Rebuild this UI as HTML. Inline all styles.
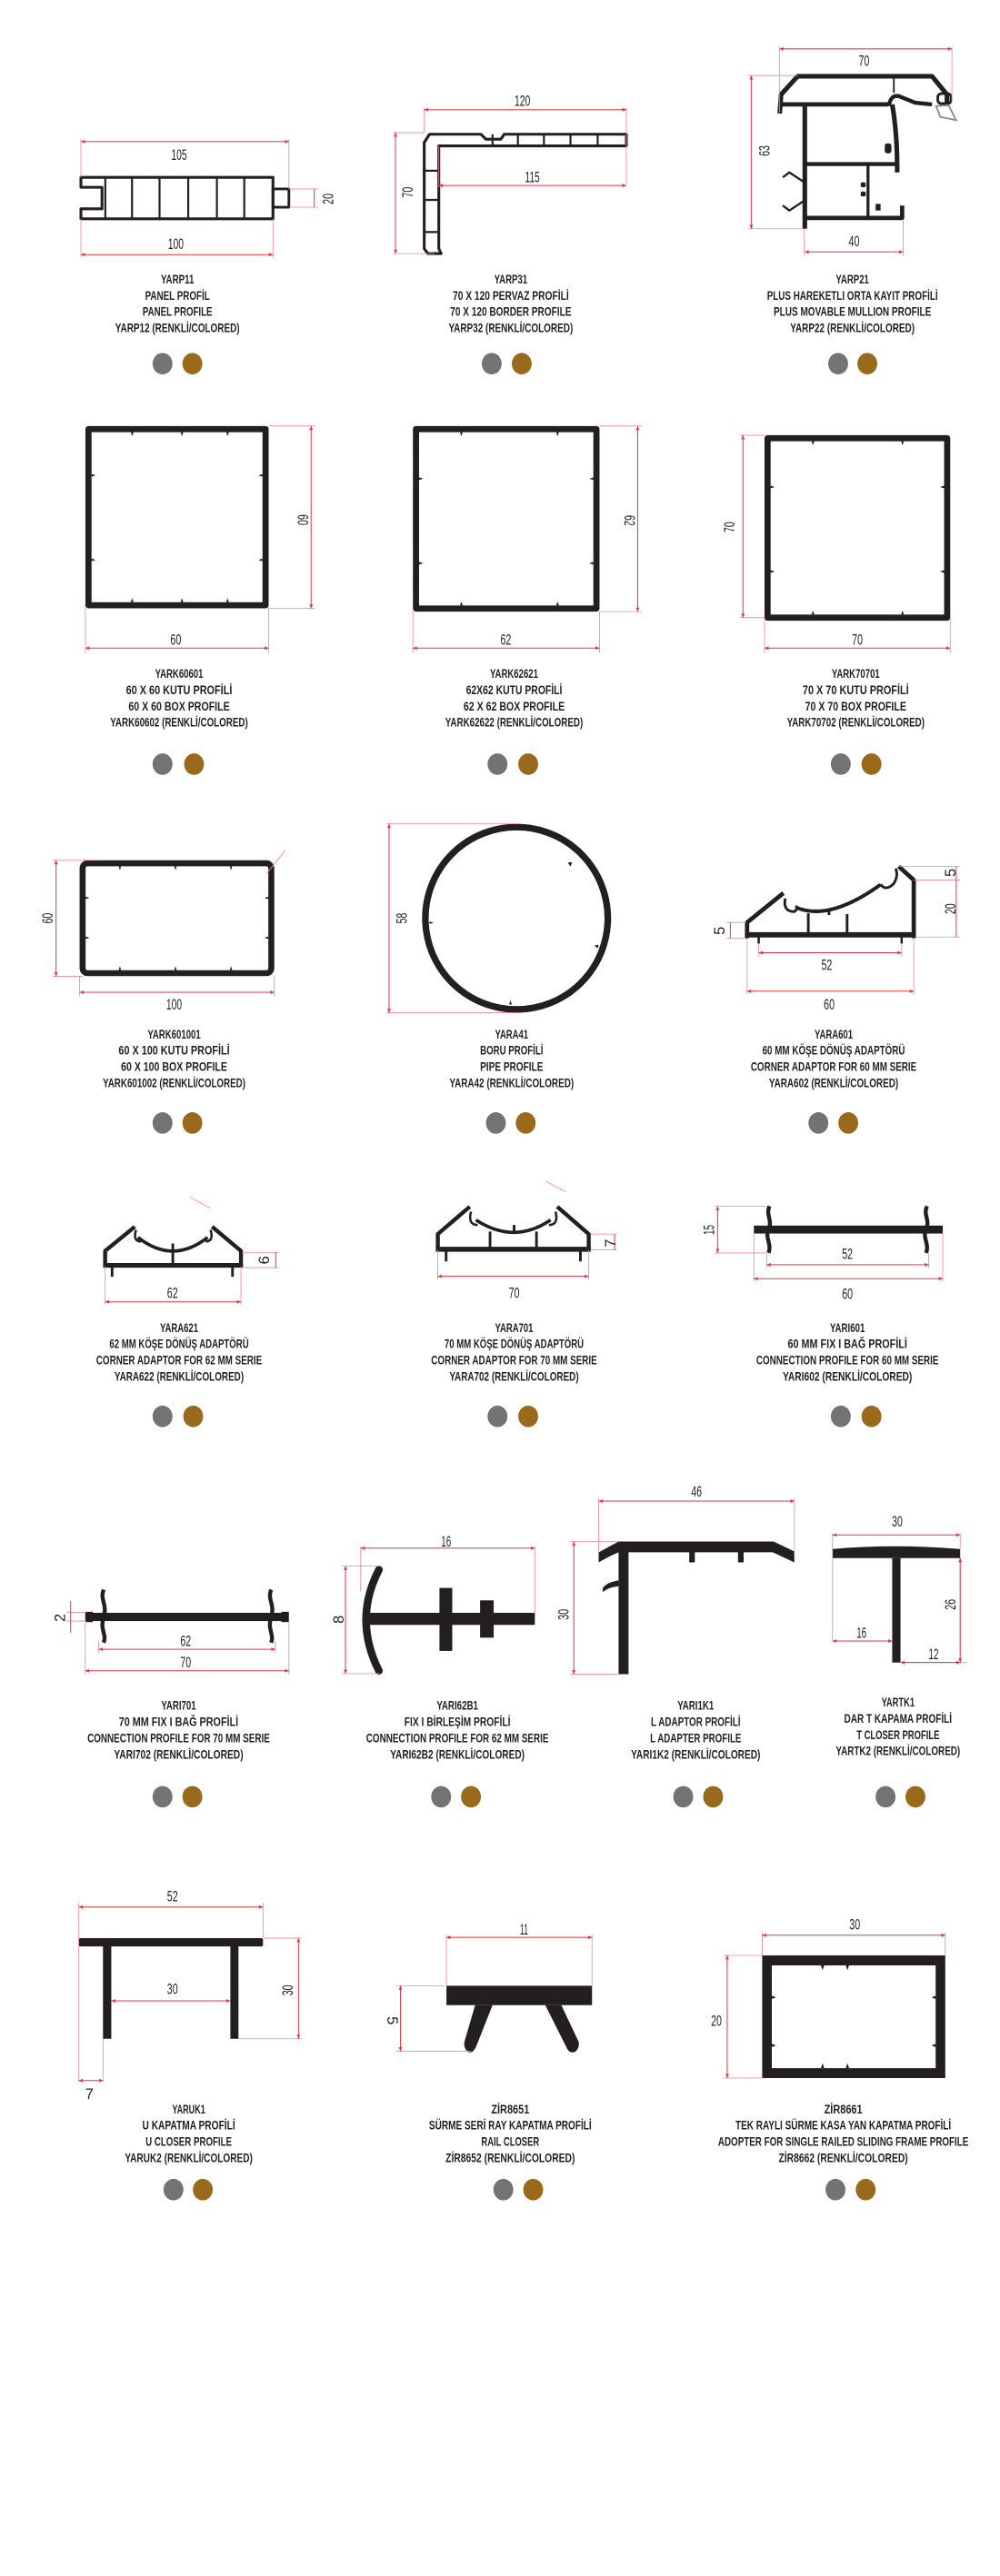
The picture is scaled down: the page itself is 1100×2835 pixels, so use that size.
<!DOCTYPE html>
<html><head><meta charset="utf-8"><style>
html,body{margin:0;padding:0;background:#fff}
svg{display:block}
.t{font-family:"Liberation Sans Narrow","Liberation Sans",sans-serif;font-weight:bold;font-size:7.6px;fill:#231f20;text-anchor:middle}
.n{font-family:"Liberation Sans Narrow","Liberation Sans",sans-serif;font-size:9px;fill:#231f20;text-anchor:middle}
.d{stroke:#e8333f;stroke-width:.55;fill:none}
.e{stroke:#f28890;stroke-width:.45;fill:none}
.k{fill:#231f20}
.o{fill:none;stroke:#231f20;stroke-linejoin:round}
.g{fill:#737373}.b{fill:#9a6a1c}
</style></head><body>
<svg width="1100" height="2835" viewBox="0 0 603 1554.1" xmlns="http://www.w3.org/2000/svg">
<defs><marker id="a" viewBox="0 0 6 6" refX="6" refY="3" markerUnits="userSpaceOnUse" markerWidth="3" markerHeight="2.4" orient="auto-start-reverse"><path d="M0,0.3L6,3L0,5.7z" fill="#e8333f"/></marker></defs>

<!-- ROW 1 -->
<path class="o" stroke-width="1.7" d="M48.8,107 H164.6 V132 H48.8 V126 H61.5 V113 H48.8 Z"/>
<rect class="o" stroke-width="1.6" x="164.6" y="114" width="9.6" height="11"/>
<path class="o" stroke-width="1.2" d="M63.5,107V132M79.6,107V132M96.2,107V132M113.5,107V132M130.8,107V132M147.3,107V132"/>
<path class="e" d="M48.8,84V107M174.2,84V114M48.8,132V155M164.6,132V155M174.2,114H192M174.2,125H192"/>
<line class="d" marker-start="url(#a)" marker-end="url(#a)" x1="48.8" y1="85.4" x2="174.2" y2="85.4"/>
<line class="d" marker-start="url(#a)" marker-end="url(#a)" x1="48.8" y1="153.6" x2="164.6" y2="153.6"/>
<line class="d" x1="189.5" y1="114" x2="189.5" y2="125"/>
<text class="n" x="108" y="96.5" textLength="9.5" lengthAdjust="spacingAndGlyphs">105</text>
<text class="n" x="106" y="150.2" textLength="9.5" lengthAdjust="spacingAndGlyphs">100</text>
<text class="n" transform="translate(198,120) rotate(-90)" y="3" textLength="6.5" lengthAdjust="spacingAndGlyphs">20</text>

<path class="o" stroke-width="1.7" d="M255.8,150 V86 L259,81 H290 L293,84 H302 L304,81 H377.7 V88 H264.6 V150 L266,153 H258 Z"/>
<path class="o" stroke-width="1.2" d="M297,81V88M312.3,81V88M328,81V88M344,81V88M360.4,81V88M255.8,103H264.6M255.8,120.6H264.6M255.8,140H264.6"/>
<path class="e" d="M255.8,65V80M377.7,65V111M237,80H256M237,153H262M264.6,88V113"/>
<line class="d" marker-start="url(#a)" marker-end="url(#a)" x1="255.8" y1="66.2" x2="377.7" y2="66.2"/>
<line class="d" marker-start="url(#a)" marker-end="url(#a)" x1="264.6" y1="111.9" x2="377.7" y2="111.9"/>
<line class="d" marker-start="url(#a)" marker-end="url(#a)" x1="238.5" y1="80" x2="238.5" y2="153"/>
<text class="n" x="315" y="63.8" textLength="9.5" lengthAdjust="spacingAndGlyphs">120</text>
<text class="n" x="321" y="109.8" textLength="9" lengthAdjust="spacingAndGlyphs">115</text>
<text class="n" transform="translate(246,116) rotate(-90)" y="3" textLength="6.5" lengthAdjust="spacingAndGlyphs">70</text>

<path class="o" stroke-width="2.8" d="M470.2,68.5 L471,57 L481,46 H562 L571,57 V62"/>
<path class="o" stroke-width="2.6" d="M471.5,63 H535.5"/>
<path class="o" stroke-width="1" d="M539,46 V56"/>
<path class="o" stroke-width="2.4" d="M536,64 Q537,57 542,58 L552,62 L562,63"/>
<rect class="o" stroke-width="1.6" x="565.5" y="56.5" width="8" height="6" rx="2"/>
<polygon points="564.5,64 567,70.5 576.5,72.5 572,63.5" fill="none" stroke="#8a8a8a" stroke-width="1"/>
<path class="o" stroke-width="2.8" d="M485.3,63 V138"/>
<path class="o" stroke-width="2.8" d="M538,63 Q541,80 541,101 V104"/>
<path class="o" stroke-width="2.4" d="M485,99 H541"/>
<path class="o" stroke-width="2.6" d="M485,131.5 H544 V124"/>
<path class="o" stroke-width="1.8" d="M523.4,99 V131"/>
<rect class="k" x="533.5" y="86.5" width="4" height="6" rx="1.5"/>
<rect class="k" x="519" y="110" width="3" height="3" rx="1"/><rect class="k" x="519" y="115.5" width="3" height="3" rx="1"/>
<rect class="k" x="528" y="123" width="3" height="4"/>
<path class="o" stroke-width="1.3" d="M472,107 L476,104 L485,110 M472,124 L476,127 L485,121"/>
<path class="e" d="M470,28V68M574,28V62M451,45.6H481M451,138H485M485,138V154M544.6,133V154"/>
<line class="d" marker-start="url(#a)" marker-end="url(#a)" x1="470" y1="29.5" x2="574" y2="29.5"/>
<line class="d" marker-start="url(#a)" marker-end="url(#a)" x1="453" y1="45.6" x2="453" y2="138"/>
<line class="d" marker-start="url(#a)" marker-end="url(#a)" x1="485.3" y1="152" x2="544.6" y2="152"/>
<text class="n" x="521" y="39.8" textLength="6.5" lengthAdjust="spacingAndGlyphs">70</text>
<text class="n" transform="translate(461,91) rotate(-90)" y="3" textLength="6.5" lengthAdjust="spacingAndGlyphs">63</text>
<text class="n" x="515" y="148.5" textLength="6.5" lengthAdjust="spacingAndGlyphs">40</text>

<g>
<text class="t" x="107" y="171" textLength="20" lengthAdjust="spacingAndGlyphs">YARP11</text>
<text class="t" x="107" y="180.8" textLength="39" lengthAdjust="spacingAndGlyphs">PANEL PROFİL</text>
<text class="t" x="107" y="190.6" textLength="42" lengthAdjust="spacingAndGlyphs">PANEL PROFILE</text>
<text class="t" x="107" y="200.4" textLength="75" lengthAdjust="spacingAndGlyphs">YARP12 (RENKLİ/COLORED)</text>
<text class="t" x="308" y="171" textLength="20" lengthAdjust="spacingAndGlyphs">YARP31</text>
<text class="t" x="308" y="180.8" textLength="70" lengthAdjust="spacingAndGlyphs">70 X 120 PERVAZ PROFİLİ</text>
<text class="t" x="308" y="190.6" textLength="73" lengthAdjust="spacingAndGlyphs">70 X 120 BORDER PROFILE</text>
<text class="t" x="308" y="200.4" textLength="75" lengthAdjust="spacingAndGlyphs">YARP32 (RENKLİ/COLORED)</text>
<text class="t" x="514" y="171" textLength="20" lengthAdjust="spacingAndGlyphs">YARP21</text>
<text class="t" x="514" y="180.8" textLength="103" lengthAdjust="spacingAndGlyphs">PLUS HAREKETLI ORTA KAYIT PROFİLİ</text>
<text class="t" x="514" y="190.6" textLength="95" lengthAdjust="spacingAndGlyphs">PLUS MOVABLE MULLION PROFILE</text>
<text class="t" x="514" y="200.4" textLength="75" lengthAdjust="spacingAndGlyphs">YARP22 (RENKLİ/COLORED)</text>
</g>
<ellipse class="g" cx="98" cy="219.4" rx="6" ry="6.5"/><ellipse class="b" cx="116" cy="219.4" rx="6" ry="6.5"/>
<ellipse class="g" cx="296.5" cy="219.4" rx="6" ry="6.5"/><ellipse class="b" cx="314.6" cy="219.4" rx="6" ry="6.5"/>
<ellipse class="g" cx="505.4" cy="219.4" rx="6" ry="6.5"/><ellipse class="b" cx="523" cy="219.4" rx="6" ry="6.5"/>

<!-- ROW 2 -->
<rect class="o" stroke-width="3.7" x="53.35" y="258.85" width="106.8" height="106.3"/>
<rect class="o" stroke-width="3.7" x="250.85" y="258.85" width="108.8" height="108.3"/>
<rect class="o" stroke-width="3.7" x="462.85" y="264.35" width="108.3" height="108.3"/>
<g class="k">
<path d="M80.5,260.7l-.8,2.5l-.8-2.5zM110.5,260.7l-.8,2.5l-.8-2.5zM138,260.7l-.8,2.5l-.8-2.5zM80.5,363.3l-.8,-2.5l-.8,2.5zM110.5,363.3l-.8,-2.5l-.8,2.5zM138,363.3l-.8,-2.5l-.8,2.5zM55.2,286l2.5,.8l-2.5,.8zM55.2,337l2.5,.8l-2.5,.8zM158.3,286l-2.5,.8l2.5,.8zM158.3,337l-2.5,.8l2.5,.8z"/>
<path d="M279,260.7l-.8,2.5l-.8-2.5zM337,260.7l-.8,2.5l-.8-2.5zM279,365.3l-.8,-2.5l-.8,2.5zM337,365.3l-.8,-2.5l-.8,2.5zM252.7,288l2.5,.8l-2.5,.8zM252.7,339l2.5,.8l-2.5,.8zM357.8,288l-2.5,.8l2.5,.8zM357.8,339l-2.5,.8l2.5,.8z"/>
<path d="M491,266.2l-.8,2.5l-.8-2.5zM545,266.2l-.8,2.5l-.8-2.5zM491,370.8l-.8,-2.5l-.8,2.5zM545,370.8l-.8,-2.5l-.8,2.5zM464.7,293l2.5,.8l-2.5,.8zM464.7,344l2.5,.8l-2.5,.8zM569.3,293l-2.5,.8l2.5,.8zM569.3,344l-2.5,.8l2.5,.8z"/>
</g>
<path class="e" d="M162,257H190M162,367H190M51.5,367V394M162,367V394M361.5,257H387M361.5,369H387M249,369V394M361.5,369V394M446,262.6H461M446,372.6H461M461,372.6V394M573,372.6V394"/>
<line class="d" marker-start="url(#a)" marker-end="url(#a)" x1="187.6" y1="257" x2="187.6" y2="367"/>
<line class="d" marker-start="url(#a)" marker-end="url(#a)" x1="51.5" y1="391" x2="162" y2="391"/>
<line class="d" marker-start="url(#a)" marker-end="url(#a)" x1="384.5" y1="257" x2="384.5" y2="369"/>
<line class="d" marker-start="url(#a)" marker-end="url(#a)" x1="249" y1="391" x2="361.5" y2="391"/>
<line class="d" marker-start="url(#a)" marker-end="url(#a)" x1="448" y1="262.6" x2="448" y2="372.6"/>
<line class="d" marker-start="url(#a)" marker-end="url(#a)" x1="461" y1="391" x2="573" y2="391"/>
<text class="n" transform="translate(182.6,313.6) rotate(90)" y="3" textLength="6.5" lengthAdjust="spacingAndGlyphs">60</text>
<text class="n" x="106" y="388.8" textLength="6.5" lengthAdjust="spacingAndGlyphs">60</text>
<text class="n" transform="translate(379.5,314) rotate(90)" y="3" textLength="6.5" lengthAdjust="spacingAndGlyphs">62</text>
<text class="n" x="305" y="388.8" textLength="6.5" lengthAdjust="spacingAndGlyphs">62</text>
<text class="n" transform="translate(440,318) rotate(-90)" y="3" textLength="6.5" lengthAdjust="spacingAndGlyphs">70</text>
<text class="n" x="517" y="388.8" textLength="6.5" lengthAdjust="spacingAndGlyphs">70</text>
<g>
<text class="t" x="108" y="409" textLength="29" lengthAdjust="spacingAndGlyphs">YARK60601</text>
<text class="t" x="108" y="418.8" textLength="64" lengthAdjust="spacingAndGlyphs">60 X 60 KUTU PROFİLİ</text>
<text class="t" x="108" y="428.6" textLength="61" lengthAdjust="spacingAndGlyphs">60 X 60 BOX PROFILE</text>
<text class="t" x="108" y="438.4" textLength="83" lengthAdjust="spacingAndGlyphs">YARK60602 (RENKLİ/COLORED)</text>
<text class="t" x="310" y="409" textLength="29" lengthAdjust="spacingAndGlyphs">YARK62621</text>
<text class="t" x="310" y="418.8" textLength="58" lengthAdjust="spacingAndGlyphs">62X62 KUTU PROFİLİ</text>
<text class="t" x="310" y="428.6" textLength="61" lengthAdjust="spacingAndGlyphs">62 X 62 BOX PROFILE</text>
<text class="t" x="310" y="438.4" textLength="83" lengthAdjust="spacingAndGlyphs">YARK62622 (RENKLİ/COLORED)</text>
<text class="t" x="516" y="409" textLength="29" lengthAdjust="spacingAndGlyphs">YARK70701</text>
<text class="t" x="516" y="418.8" textLength="64" lengthAdjust="spacingAndGlyphs">70 X 70 KUTU PROFİLİ</text>
<text class="t" x="516" y="428.6" textLength="61" lengthAdjust="spacingAndGlyphs">70 X 70 BOX PROFILE</text>
<text class="t" x="516" y="438.4" textLength="83" lengthAdjust="spacingAndGlyphs">YARK70702 (RENKLİ/COLORED)</text>
</g>
<ellipse class="g" cx="98" cy="461" rx="6" ry="6.5"/><ellipse class="b" cx="117" cy="461" rx="6" ry="6.5"/>
<ellipse class="g" cx="300" cy="461" rx="6" ry="6.5"/><ellipse class="b" cx="318.5" cy="461" rx="6" ry="6.5"/>
<ellipse class="g" cx="507" cy="461" rx="6" ry="6.5"/><ellipse class="b" cx="525.5" cy="461" rx="6" ry="6.5"/>

<!-- ROW 3 -->
<rect class="o" stroke-width="3.6" x="49.8" y="520.8" width="113.8" height="66.3" rx="3"/>
<g class="k"><path d="M73,522.6l-.7,2.5l-.7-2.5zM106.5,522.6l-.7,2.5l-.7-2.5zM140,522.6l-.7,2.5l-.7-2.5zM73,585.3l-.7,-2.5l-.7,2.5zM106.5,585.3l-.7,-2.5l-.7,2.5zM140,585.3l-.7,-2.5l-.7,2.5zM51.6,541l2.5,.7l-2.5,.7zM51.6,565l2.5,.7l-2.5,.7zM161.8,541l-2.5,.7l2.5,.7zM161.8,565l-2.5,.7l2.5,.7z"/></g>
<path class="e" d="M32,519H60M32,589H50M48,589V601M165.4,589V601"/>
<line class="e" x1="160.8" y1="527" x2="172" y2="513"/>
<line class="d" marker-start="url(#a)" marker-end="url(#a)" x1="33.8" y1="519" x2="33.8" y2="589"/>
<line class="d" marker-start="url(#a)" marker-end="url(#a)" x1="48" y1="598.6" x2="165.4" y2="598.6"/>
<text class="n" transform="translate(28.8,554) rotate(-90)" y="3" textLength="6.5" lengthAdjust="spacingAndGlyphs">60</text>
<text class="n" x="105" y="609" textLength="9.5" lengthAdjust="spacingAndGlyphs">100</text>
<circle class="o" stroke-width="4" cx="311.5" cy="554" r="55"/>
<g class="k"><path d="M282,506l1.6,2.4l-2.6,-.4zM345,520l-2.6,.4l1.6,2.4zM259,556l2.6,.7l-2.6,.7zM361,570l-2.6,.4l2,1.8zM307,606l.8,-2.5l.8,2.5z"/></g>
<path class="e" d="M233,497H312M233,611H312"/>
<line class="d" marker-start="url(#a)" marker-end="url(#a)" x1="234.6" y1="497" x2="234.6" y2="611"/>
<text class="n" transform="translate(242.3,554) rotate(-90)" y="3" textLength="6.5" lengthAdjust="spacingAndGlyphs">58</text>
<path class="o" stroke-width="2.6" d="M450.5,566 V556.5 L472.4,538.8"/>
<path class="o" stroke-width="2.6" d="M541.9,522.7 L551,530.9 V566"/>
<path class="k" d="M449.2,562.4 H552.3 V565.6 H449.2Z"/>
<path class="o" stroke-width="2.2" d="M479.8,547.4 Q500,556 530.9,533.7"/>
<path class="o" stroke-width="1.6" d="M473.5,542 Q472,550 479,550 Q481.5,548 479.8,546.5 M531,533.5 Q534,538 539,533 Q542,528 540,524"/>
<path class="o" stroke-width="1.6" d="M487.4,551V563M510.8,551.5V563M499.9,548.5V552"/>
<path class="o" stroke-width="1.4" d="M457.5,565V569.3M543.7,565V569.3"/>
<path class="e" d="M457.5,569V577M543.7,569V577M450.5,566V600M551,566V600M542,522.7H579M551,530.9H579M552,565.3H579M438,556.5H450M438,566H450"/>
<line class="d" marker-start="url(#a)" marker-end="url(#a)" x1="457.5" y1="574.8" x2="543.7" y2="574.8"/>
<line class="d" marker-start="url(#a)" marker-end="url(#a)" x1="450.5" y1="598" x2="551" y2="598"/>
<line class="d" x1="576.6" y1="522.7" x2="576.6" y2="565.3"/>
<line class="d" x1="440.4" y1="556.5" x2="440.4" y2="566"/>
<text class="n" x="498.5" y="585.2" textLength="6.5" lengthAdjust="spacingAndGlyphs">52</text>
<text class="n" x="500" y="609" textLength="6.5" lengthAdjust="spacingAndGlyphs">60</text>
<text class="n" transform="translate(573,526.5) rotate(-90)" y="3">5</text>
<text class="n" transform="translate(573,548.3) rotate(-90)" y="3" textLength="6.5" lengthAdjust="spacingAndGlyphs">20</text>
<text class="n" transform="translate(434,561.5) rotate(-90)" y="3">5</text>
<g>
<text class="t" x="105" y="626.5" textLength="32" lengthAdjust="spacingAndGlyphs">YARK601001</text>
<text class="t" x="105" y="636.3" textLength="67" lengthAdjust="spacingAndGlyphs">60 X 100 KUTU PROFİLİ</text>
<text class="t" x="105" y="646.1" textLength="64" lengthAdjust="spacingAndGlyphs">60 X 100 BOX PROFILE</text>
<text class="t" x="105" y="655.9" textLength="86" lengthAdjust="spacingAndGlyphs">YARK601002 (RENKLİ/COLORED)</text>
<text class="t" x="308.5" y="626.5" textLength="20" lengthAdjust="spacingAndGlyphs">YARA41</text>
<text class="t" x="308.5" y="636.3" textLength="38" lengthAdjust="spacingAndGlyphs">BORU PROFİLİ</text>
<text class="t" x="308.5" y="646.1" textLength="38" lengthAdjust="spacingAndGlyphs">PIPE PROFILE</text>
<text class="t" x="308.5" y="655.9" textLength="75" lengthAdjust="spacingAndGlyphs">YARA42 (RENKLİ/COLORED)</text>
<text class="t" x="502.7" y="626.5" textLength="23" lengthAdjust="spacingAndGlyphs">YARA601</text>
<text class="t" x="502.7" y="636.3" textLength="86" lengthAdjust="spacingAndGlyphs">60 MM KÖŞE DÖNÜŞ ADAPTÖRÜ</text>
<text class="t" x="502.7" y="646.1" textLength="100" lengthAdjust="spacingAndGlyphs">CORNER ADAPTOR FOR 60 MM SERIE</text>
<text class="t" x="502.7" y="655.9" textLength="78" lengthAdjust="spacingAndGlyphs">YARA602 (RENKLİ/COLORED)</text>
</g>
<ellipse class="g" cx="98" cy="677.5" rx="6" ry="6.5"/><ellipse class="b" cx="116" cy="677.5" rx="6" ry="6.5"/>
<ellipse class="g" cx="299" cy="677.5" rx="6" ry="6.5"/><ellipse class="b" cx="317" cy="677.5" rx="6" ry="6.5"/>
<ellipse class="g" cx="493.5" cy="677.5" rx="6" ry="6.5"/><ellipse class="b" cx="511.5" cy="677.5" rx="6" ry="6.5"/>

<!-- ROW 4 -->
<path class="o" stroke-width="2.4" d="M63.4,764 V754.7 L81.3,740.1 M127.9,740.1 L145.3,754.7 V764"/>
<path class="k" d="M62.2,762 H146.5 V764.8 H62.2Z"/>
<path class="o" stroke-width="2" d="M83.2,746.5 Q104.2,763 125.2,746.5"/>
<path class="o" stroke-width="1.4" d="M82,742 Q80,749 85,749 M127,742 Q129,749 124,749"/>
<path class="o" stroke-width="1.6" d="M104.2,750.2V763M67.6,764V770.3M140.2,764V770.3"/>
<line class="e" x1="114.8" y1="722.2" x2="127" y2="729.1"/>
<path class="e" d="M63.4,764V787M145.3,764V787M146,755.6H168M146,764.8H168"/>
<line class="d" marker-start="url(#a)" marker-end="url(#a)" x1="63.4" y1="785.4" x2="145.3" y2="785.4"/>
<line class="d" x1="166.3" y1="755.6" x2="166.3" y2="764.8"/>
<text class="n" x="104" y="783" textLength="6.5" lengthAdjust="spacingAndGlyphs">62</text>
<text class="n" transform="translate(159,760.2) rotate(90)" y="3">9</text>
<path class="o" stroke-width="2.4" d="M264,754 V744.5 L283.3,728 M336,728 L355,744.5 V754"/>
<path class="k" d="M262.8,752.2 H356.2 V755.2 H262.8Z"/>
<path class="o" stroke-width="2" d="M287,736 Q310,751 332,736"/>
<path class="o" stroke-width="1.4" d="M284,731 Q282,739 288,739 M335,731 Q337,739 331,739"/>
<path class="o" stroke-width="1.6" d="M295.5,743V753M323.5,743V753M310,739V744M269,754V761M350,754V761"/>
<line class="e" x1="329" y1="712.7" x2="341.5" y2="719"/>
<path class="e" d="M264,754V772M355,754V772M356,744.5H372M356,754H372"/>
<line class="d" marker-start="url(#a)" marker-end="url(#a)" x1="264" y1="770" x2="355" y2="770"/>
<line class="d" x1="370.6" y1="744.5" x2="370.6" y2="754"/>
<text class="n" x="310" y="783" textLength="6.5" lengthAdjust="spacingAndGlyphs">70</text>
<text class="n" transform="translate(368,750) rotate(-90)" y="3">7</text>
<rect class="k" x="454.6" y="739.4" width="113.9" height="4.8"/>
<path class="o" stroke-width="2.4" d="M464,727.7 C461.5,733 466,736 463.5,741.5 C461,747 465.5,750 463.5,755.9"/>
<path class="o" stroke-width="2.4" d="M559,727.7 C556.5,733 561,736 558.5,741.5 C556,747 560.5,750 558.5,755.9"/>
<path class="e" d="M431,727.7H462M431,755.9H462M462.3,756V765M560,756V765M454.6,744V773M568.5,744V773"/>
<line class="d" marker-start="url(#a)" marker-end="url(#a)" x1="432.7" y1="727.7" x2="432.7" y2="755.9"/>
<line class="d" marker-start="url(#a)" marker-end="url(#a)" x1="462.3" y1="763" x2="560" y2="763"/>
<line class="d" marker-start="url(#a)" marker-end="url(#a)" x1="454.6" y1="771.4" x2="568.5" y2="771.4"/>
<text class="n" transform="translate(427.7,742) rotate(-90)" y="3" textLength="6" lengthAdjust="spacingAndGlyphs">15</text>
<text class="n" x="511" y="759.5" textLength="6.5" lengthAdjust="spacingAndGlyphs">52</text>
<text class="n" x="511" y="783.5" textLength="6.5" lengthAdjust="spacingAndGlyphs">60</text>
<g>
<text class="t" x="108" y="803.5" textLength="23" lengthAdjust="spacingAndGlyphs">YARA621</text>
<text class="t" x="108" y="813.3" textLength="84" lengthAdjust="spacingAndGlyphs">62 MM KÖŞE DÖNÜŞ ADAPTÖRÜ</text>
<text class="t" x="108" y="823.1" textLength="100" lengthAdjust="spacingAndGlyphs">CORNER ADAPTOR FOR 62 MM SERIE</text>
<text class="t" x="108" y="832.9" textLength="78" lengthAdjust="spacingAndGlyphs">YARA622 (RENKLİ/COLORED)</text>
<text class="t" x="310" y="803.5" textLength="23" lengthAdjust="spacingAndGlyphs">YARA701</text>
<text class="t" x="310" y="813.3" textLength="84" lengthAdjust="spacingAndGlyphs">70 MM KÖŞE DÖNÜŞ ADAPTÖRÜ</text>
<text class="t" x="310" y="823.1" textLength="100" lengthAdjust="spacingAndGlyphs">CORNER ADAPTOR FOR 70 MM SERIE</text>
<text class="t" x="310" y="832.9" textLength="78" lengthAdjust="spacingAndGlyphs">YARA702 (RENKLİ/COLORED)</text>
<text class="t" x="511" y="803.5" textLength="21" lengthAdjust="spacingAndGlyphs">YARI601</text>
<text class="t" x="511" y="813.3" textLength="72" lengthAdjust="spacingAndGlyphs">60 MM FIX I BAĞ PROFİLİ</text>
<text class="t" x="511" y="823.1" textLength="110" lengthAdjust="spacingAndGlyphs">CONNECTION PROFILE FOR 60 MM SERIE</text>
<text class="t" x="511" y="832.9" textLength="78" lengthAdjust="spacingAndGlyphs">YARI602 (RENKLİ/COLORED)</text>
</g>
<ellipse class="g" cx="98" cy="854.5" rx="6" ry="6.5"/><ellipse class="b" cx="116.5" cy="854.5" rx="6" ry="6.5"/>
<ellipse class="g" cx="300" cy="854.5" rx="6" ry="6.5"/><ellipse class="b" cx="318.5" cy="854.5" rx="6" ry="6.5"/>
<ellipse class="g" cx="507" cy="854.5" rx="6" ry="6.5"/><ellipse class="b" cx="525.5" cy="854.5" rx="6" ry="6.5"/>

<!-- ROW 5 -->
<rect class="k" x="55.5" y="973" width="114.5" height="5"/>
<rect class="k" x="51.4" y="972.4" width="4.5" height="6.2"/><rect class="k" x="169.7" y="972.4" width="4.5" height="6.2"/>
<path class="o" stroke-width="2.4" d="M62.5,959 C60,965 65,968 62.5,975.5 C60,983 64.5,986 62.5,991"/>
<path class="o" stroke-width="2.4" d="M163.5,959 C161,965 166,968 163.5,975.5 C161,983 165.5,986 163.5,991"/>
<path class="e" d="M40,972.8H52M40,978H52M59.5,990V997M166,990V997M51.4,979V1010M174.2,979V1010"/>
<line class="d" x1="42.6" y1="966" x2="42.6" y2="985"/>
<line class="d" marker-start="url(#a)" marker-end="url(#a)" x1="59.5" y1="995" x2="166" y2="995"/>
<line class="d" marker-start="url(#a)" marker-end="url(#a)" x1="51.4" y1="1008" x2="174.2" y2="1008"/>
<text class="n" transform="translate(36.2,976) rotate(-90)" y="3">2</text>
<text class="n" x="112" y="993" textLength="6.5" lengthAdjust="spacingAndGlyphs">62</text>
<text class="n" x="112" y="1006" textLength="6.5" lengthAdjust="spacingAndGlyphs">70</text>
<path class="o" stroke-width="4.6" stroke-linecap="round" d="M228.5,947 Q213,977 228.5,1008"/>
<rect class="k" x="222" y="973" width="100.5" height="7.3"/>
<rect class="k" x="265" y="958" width="7.7" height="38"/>
<rect class="k" x="289.5" y="965.5" width="8.2" height="22.5"/>
<path class="e" d="M217.5,933V960M322.5,933V973M206,944.8H229M206,1009.7H229"/>
<line class="d" marker-start="url(#a)" marker-end="url(#a)" x1="217.5" y1="934" x2="322.5" y2="934"/>
<line class="d" marker-start="url(#a)" marker-end="url(#a)" x1="208.3" y1="944.8" x2="208.3" y2="1009.7"/>
<text class="n" x="269" y="933" textLength="6" lengthAdjust="spacingAndGlyphs">16</text>
<text class="n" transform="translate(204.3,977) rotate(-90)" y="3">8</text>
<path class="k" d="M361,936.5 L373,930 H466.5 L479,936 V942.6 L466,936.5 H379 V1010 H373 V936.5 Q367,939 361,942.6Z"/>
<rect class="k" x="415.6" y="936" width="3.4" height="6.6"/><rect class="k" x="445" y="936" width="3.4" height="6.6"/>
<path class="k" d="M373,953.5 Q366,954.5 363.5,958 V960.5 Q367,957.5 373,957Z"/>
<path class="e" d="M361,904V936M479,904V940M344,930H373M344,1010H373"/>
<line class="d" marker-start="url(#a)" marker-end="url(#a)" x1="361" y1="905.6" x2="479" y2="905.6"/>
<line class="d" marker-start="url(#a)" marker-end="url(#a)" x1="346" y1="930" x2="346" y2="1010"/>
<text class="n" x="420" y="902.8" textLength="6.5" lengthAdjust="spacingAndGlyphs">46</text>
<text class="n" transform="translate(340,974) rotate(-90)" y="3" textLength="6.5" lengthAdjust="spacingAndGlyphs">30</text>
<path class="k" d="M502,934.5 Q540,931.3 579,934.5 V940 H502Z"/>
<rect class="k" x="538" y="940" width="5" height="63"/>
<path class="e" d="M502,925V990M579,925V934M579,940V1004M543,1003H583"/>
<line class="d" marker-start="url(#a)" marker-end="url(#a)" x1="502" y1="926" x2="579" y2="926"/>
<line class="d" marker-start="url(#a)" marker-end="url(#a)" x1="579" y1="940" x2="579" y2="1003"/>
<line class="d" marker-start="url(#a)" marker-end="url(#a)" x1="502" y1="990" x2="538" y2="990"/>
<line class="d" marker-start="url(#a)" marker-end="url(#a)" x1="543" y1="1003" x2="579" y2="1003"/>
<text class="n" x="541" y="921" textLength="6.5" lengthAdjust="spacingAndGlyphs">30</text>
<text class="n" transform="translate(573,968) rotate(-90)" y="3" textLength="6.5" lengthAdjust="spacingAndGlyphs">26</text>
<text class="n" x="519.5" y="988" textLength="6" lengthAdjust="spacingAndGlyphs">16</text>
<text class="n" x="563" y="1001" textLength="6" lengthAdjust="spacingAndGlyphs">12</text>
<g>
<text class="t" x="107.7" y="1031.5" textLength="21" lengthAdjust="spacingAndGlyphs">YARI701</text>
<text class="t" x="107.7" y="1041.3" textLength="72" lengthAdjust="spacingAndGlyphs">70 MM FIX I BAĞ PROFİLİ</text>
<text class="t" x="107.7" y="1051.1" textLength="110" lengthAdjust="spacingAndGlyphs">CONNECTION PROFILE FOR 70 MM SERIE</text>
<text class="t" x="107.7" y="1060.9" textLength="78" lengthAdjust="spacingAndGlyphs">YARI702 (RENKLİ/COLORED)</text>
<text class="t" x="275.8" y="1031.5" textLength="25" lengthAdjust="spacingAndGlyphs">YARI62B1</text>
<text class="t" x="275.8" y="1041.3" textLength="64" lengthAdjust="spacingAndGlyphs">FIX I BİRLEŞİM PROFİLİ</text>
<text class="t" x="275.8" y="1051.1" textLength="110" lengthAdjust="spacingAndGlyphs">CONNECTION PROFILE FOR 62 MM SERIE</text>
<text class="t" x="275.8" y="1060.9" textLength="81" lengthAdjust="spacingAndGlyphs">YARI62B2 (RENKLİ/COLORED)</text>
<text class="t" x="419.5" y="1031.5" textLength="22" lengthAdjust="spacingAndGlyphs">YARI1K1</text>
<text class="t" x="419.5" y="1041.3" textLength="54" lengthAdjust="spacingAndGlyphs">L ADAPTOR PROFİLİ</text>
<text class="t" x="419.5" y="1051.1" textLength="55" lengthAdjust="spacingAndGlyphs">L ADAPTER PROFILE</text>
<text class="t" x="419.5" y="1060.9" textLength="78" lengthAdjust="spacingAndGlyphs">YARI1K2 (RENKLİ/COLORED)</text>
<text class="t" x="541.5" y="1029.5" textLength="20" lengthAdjust="spacingAndGlyphs">YARTK1</text>
<text class="t" x="541.5" y="1039.3" textLength="65" lengthAdjust="spacingAndGlyphs">DAR T KAPAMA PROFİLİ</text>
<text class="t" x="541.5" y="1049.1" textLength="50" lengthAdjust="spacingAndGlyphs">T CLOSER PROFILE</text>
<text class="t" x="541.5" y="1058.9" textLength="75" lengthAdjust="spacingAndGlyphs">YARTK2 (RENKLİ/COLORED)</text>
</g>
<ellipse class="g" cx="98" cy="1084" rx="6" ry="6.5"/><ellipse class="b" cx="116" cy="1084" rx="6" ry="6.5"/>
<ellipse class="g" cx="266" cy="1084" rx="6" ry="6.5"/><ellipse class="b" cx="284" cy="1084" rx="6" ry="6.5"/>
<ellipse class="g" cx="412" cy="1084" rx="6" ry="6.5"/><ellipse class="b" cx="430" cy="1084" rx="6" ry="6.5"/>
<ellipse class="g" cx="534" cy="1084" rx="6" ry="6.5"/><ellipse class="b" cx="552" cy="1084" rx="6" ry="6.5"/>

<!-- ROW 6 -->
<rect class="k" x="47.5" y="1169.3" width="111.1" height="5" rx="1"/>
<rect class="k" x="62.1" y="1174" width="5" height="56"/>
<rect class="k" x="138.9" y="1174" width="4.9" height="56"/>
<path class="e" d="M47.5,1148V1256M158.6,1148V1169M159,1169.3H182M143.8,1230H182M62.1,1230V1256"/>
<line class="d" marker-start="url(#a)" marker-end="url(#a)" x1="47.5" y1="1150.5" x2="158.6" y2="1150.5"/>
<line class="d" marker-start="url(#a)" marker-end="url(#a)" x1="67.1" y1="1207.1" x2="138.9" y2="1207.1"/>
<line class="d" marker-start="url(#a)" marker-end="url(#a)" x1="180" y1="1169.3" x2="180" y2="1230"/>
<line class="d" marker-start="url(#a)" marker-end="url(#a)" x1="47.5" y1="1255.2" x2="62.1" y2="1255.2"/>
<text class="n" x="104" y="1147.2" textLength="6.5" lengthAdjust="spacingAndGlyphs">52</text>
<text class="n" x="104" y="1203" textLength="6.5" lengthAdjust="spacingAndGlyphs">30</text>
<text class="n" transform="translate(173.6,1200.7) rotate(-90)" y="3" textLength="6.5" lengthAdjust="spacingAndGlyphs">30</text>
<text class="n" x="53.9" y="1266.4">7</text>
<rect class="k" x="269.2" y="1198" width="87.8" height="11.7"/>
<path class="k" d="M286.5,1209.7 H297 L287,1235 Q285,1239 282.5,1238 Q279.5,1236 280,1232Z"/>
<path class="k" d="M328.8,1209.7 H338.5 L349,1232 Q349.5,1236 346.5,1238 Q343,1239 341.5,1235Z"/>
<path class="e" d="M269.2,1167V1198M357,1167V1198M239,1198H268M239,1237.5H284"/>
<line class="d" marker-start="url(#a)" marker-end="url(#a)" x1="269.2" y1="1168.8" x2="357" y2="1168.8"/>
<line class="d" marker-start="url(#a)" marker-end="url(#a)" x1="241.5" y1="1198" x2="241.5" y2="1237.5"/>
<text class="n" x="316" y="1167" textLength="5" lengthAdjust="spacingAndGlyphs">11</text>
<text class="n" transform="translate(236.5,1219) rotate(90)" y="3">5</text>
<path class="k" fill-rule="evenodd" d="M459.6,1179.7H570V1253.7H459.6Z M465.4,1185.7V1247.7H564.2V1185.7Z"/>
<g class="k"><path d="M497,1185.7l-1,3l-1,-3zM512,1185.7l-1,3l-1,-3zM497,1247.7l-1,-3l-1,3zM512,1247.7l-1,-3l-1,3zM465.4,1204l2.5,1l-2.5,1zM465.4,1233l2.5,1l-2.5,1zM564.2,1204l-2.5,1l2.5,1zM564.2,1233l-2.5,1l2.5,1z"/></g>
<path class="e" d="M459.6,1166V1180M570,1166V1180M436,1179.7H460M436,1253.7H460"/>
<line class="d" marker-start="url(#a)" marker-end="url(#a)" x1="459.6" y1="1167.5" x2="570" y2="1167.5"/>
<line class="d" marker-start="url(#a)" marker-end="url(#a)" x1="438.5" y1="1179.7" x2="438.5" y2="1253.7"/>
<text class="n" x="515.4" y="1164.2" textLength="6.5" lengthAdjust="spacingAndGlyphs">30</text>
<text class="n" x="432" y="1222.2" textLength="6.5" lengthAdjust="spacingAndGlyphs">20</text>
<g>
<text class="t" x="113.8" y="1275" textLength="20" lengthAdjust="spacingAndGlyphs">YARUK1</text>
<text class="t" x="113.8" y="1284.8" textLength="56" lengthAdjust="spacingAndGlyphs">U KAPATMA PROFİLİ</text>
<text class="t" x="113.8" y="1294.6" textLength="52" lengthAdjust="spacingAndGlyphs">U CLOSER PROFILE</text>
<text class="t" x="113.8" y="1304.4" textLength="77" lengthAdjust="spacingAndGlyphs">YARUK2 (RENKLİ/COLORED)</text>
<text class="t" x="307.7" y="1275" textLength="23" lengthAdjust="spacingAndGlyphs">ZİR8651</text>
<text class="t" x="307.7" y="1284.8" textLength="98" lengthAdjust="spacingAndGlyphs">SÜRME SERİ RAY KAPATMA PROFİLİ</text>
<text class="t" x="307.7" y="1294.6" textLength="35" lengthAdjust="spacingAndGlyphs">RAIL CLOSER</text>
<text class="t" x="307.7" y="1304.4" textLength="78" lengthAdjust="spacingAndGlyphs">ZİR8652 (RENKLİ/COLORED)</text>
<text class="t" x="508.5" y="1275" textLength="23" lengthAdjust="spacingAndGlyphs">ZİR8661</text>
<text class="t" x="508.5" y="1284.8" textLength="130" lengthAdjust="spacingAndGlyphs">TEK RAYLI SÜRME KASA YAN KAPATMA PROFİLİ</text>
<text class="t" x="508.5" y="1294.6" textLength="151" lengthAdjust="spacingAndGlyphs">ADOPTER FOR SINGLE RAILED SLIDING FRAME PROFILE</text>
<text class="t" x="508.5" y="1304.4" textLength="78" lengthAdjust="spacingAndGlyphs">ZİR8662 (RENKLİ/COLORED)</text>
</g>
<ellipse class="g" cx="104.6" cy="1321" rx="6" ry="6.5"/><ellipse class="b" cx="122.3" cy="1321" rx="6" ry="6.5"/>
<ellipse class="g" cx="303.5" cy="1321" rx="6" ry="6.5"/><ellipse class="b" cx="321.5" cy="1321" rx="6" ry="6.5"/>
<ellipse class="g" cx="503.8" cy="1321" rx="6" ry="6.5"/><ellipse class="b" cx="522" cy="1321" rx="6" ry="6.5"/>
</svg>
</body></html>
